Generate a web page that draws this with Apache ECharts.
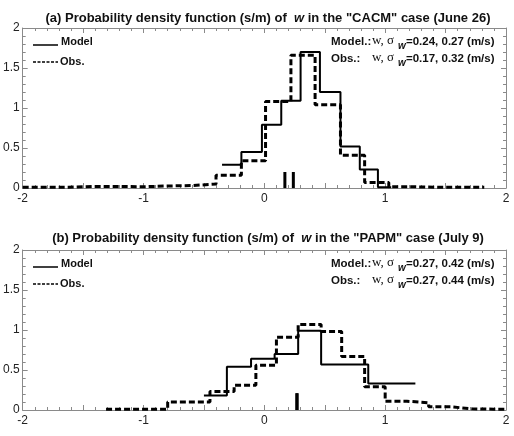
<!DOCTYPE html>
<html>
<head>
<meta charset="utf-8">
<script src="https://cdn.jsdelivr.net/npm/echarts@6/dist/echarts.min.js"></script>
<style>
  html, body { margin: 0; padding: 0; background: #fff; }
  #main { width: 514px; height: 436px; }
</style>
</head>
<body>
<div id="main"></div>
<script>
// panel (a) CACM, June 26
const modelAEdges = [-0.35, -0.19, -0.02, 0.14, 0.30, 0.46, 0.63, 0.79, 0.94, 1.05];
const modelAValues = [0.29, 0.45, 0.79, 1.09, 1.70, 1.20, 0.52, 0.23, 0.01];
const obsAEdges = [-2.0, -1.83, -1.62, -1.42, -1.22, -1.01, -0.81, -0.60, -0.40, -0.19, 0.01, 0.22, 0.42, 0.63, 0.83, 1.03, 1.24, 1.44, 1.65, 1.82];
const obsAValues = [0.01, 0.01, 0.02, 0.02, 0.015, 0.025, 0.03, 0.05, 0.16, 0.34, 1.08, 1.66, 1.04, 0.41, 0.07, 0.015, 0.01, 0.01, 0.01];
const meanA = { model: 0.24, obs: 0.17, height: 0.2 };

// panel (b) PAPM, July 9
const modelBEdges = [-0.50, -0.31, -0.11, 0.085, 0.28, 0.47, 0.66, 0.86, 1.05, 1.25];
const modelBValues = [0.18, 0.54, 0.64, 0.70, 0.99, 0.57, 0.57, 0.33, 0.33];
const obsBEdges = [-1.31, -1.17, -0.99, -0.80, -0.63, -0.45, -0.25, -0.07, 0.10, 0.28, 0.47, 0.64, 0.83, 1.0, 1.18, 1.36, 1.54, 1.72, 1.90, 2.0];
const obsBValues = [0.01, 0.01, 0.01, 0.10, 0.10, 0.23, 0.31, 0.56, 0.91, 1.07, 0.98, 0.67, 0.29, 0.11, 0.09, 0.04, 0.015, 0.01, 0.01];
const meanB = { model: 0.27, obs: 0.27, height: 0.21 };

const titles = [
  '(a) Probability density function (s/m) of  {i|w} in the "CACM" case (June 26)',
  '(b) Probability density function (s/m) of  {i|w} in the "PAPM" case (July 9)'
];
const stats = [
  { model: '=0.24, 0.27 (m/s)', obs: '=0.17, 0.32 (m/s)' },
  { model: '=0.27, 0.42 (m/s)', obs: '=0.27, 0.44 (m/s)' }
];

// turn bin edges + heights into step points
function steps(edges, vals) {
  const pts = vals.map((v, i) => [edges[i], v]);
  pts.push([edges[edges.length - 1], vals[vals.length - 1]]);
  return pts;
}

const myChart = echarts.init(document.getElementById('main'));
const FONT = 'Liberation Sans, Arial, sans-serif';
const grids = [
  { left: 22, top: 28, width: 484, height: 160 },
  { left: 22, top: 250, width: 484, height: 160 }
];

const axisLineStyle = { color: '#8a8a8a', width: 1 };
function xAxes(gi) {
  const base = {
    type: 'value', gridIndex: gi, min: -2, max: 2, interval: 0.5,
    axisLine: { show: true, onZero: false, lineStyle: axisLineStyle },
    axisTick: { show: true, inside: true, length: 5, lineStyle: axisLineStyle },
    minorTick: { show: true, splitNumber: 5, length: 3, lineStyle: axisLineStyle },
    splitLine: { show: false }
  };
  return [
    Object.assign({}, base, {
      position: 'bottom',
      axisLabel: {
        margin: 5, color: '#222', fontSize: 12, fontFamily: FONT,
        formatter: (v) => (Number.isInteger(v) ? String(v) : '')
      }
    }),
    Object.assign({}, base, { position: 'top', axisLabel: { show: false } })
  ];
}
function yAxes(gi) {
  const base = {
    type: 'value', gridIndex: gi, min: 0, max: 2, interval: 0.5,
    axisLine: { show: true, onZero: false, lineStyle: axisLineStyle },
    axisTick: { show: true, inside: true, length: 5, lineStyle: axisLineStyle },
    minorTick: { show: true, splitNumber: 5, length: 3, lineStyle: axisLineStyle },
    splitLine: { show: false }
  };
  return [
    Object.assign({}, base, {
      position: 'left',
      axisLabel: { margin: 3, color: '#222', fontSize: 12, fontFamily: FONT }
    }),
    Object.assign({}, base, { position: 'right', axisLabel: { show: false } })
  ];
}

function panelSeries(ax, model, obs, mean) {
  const common = { xAxisIndex: ax, yAxisIndex: ax, symbol: 'none', silent: true, animation: false };
  return [
    Object.assign({ type: 'line', step: 'end', data: model, lineStyle: { color: '#000', width: 2 } }, common),
    Object.assign({ type: 'line', step: 'end', data: obs, lineStyle: { color: '#000', width: 3, type: [6, 3] } }, common),
    Object.assign({ type: 'line', data: [[mean.obs, 0], [mean.obs, mean.height]], lineStyle: { color: '#000', width: 3 } }, common),
    Object.assign({ type: 'line', data: [[mean.model, 0], [mean.model, mean.height]], lineStyle: { color: '#000', width: 3 } }, common)
  ];
}

// legend + stats text for one panel
function panelGraphics(p) {
  const dy = p * 222;
  const b = { fontFamily: FONT, fontWeight: 'bold', fontSize: 11.5, fill: '#111', verticalAlign: 'middle' };
  const serif = { fontFamily: 'Liberation Serif, Times New Roman, serif', fontSize: 13, fill: '#111', verticalAlign: 'middle' };
  const sub = { fontFamily: FONT, fontWeight: 'bold', fontStyle: 'italic', fontSize: 10, fill: '#111', verticalAlign: 'middle' };
  const g = [
    { type: 'line', shape: { x1: 33, y1: 45 + dy, x2: 58, y2: 45 + dy }, style: { stroke: '#000', lineWidth: 1.5 } },
    { type: 'text', x: 61, y: 42 + dy, style: Object.assign({ text: 'Model' }, b, { fontSize: 11 }) },
    { type: 'line', shape: { x1: 33, y1: 62 + dy, x2: 58, y2: 62 + dy }, style: { stroke: '#000', lineWidth: 1.5, lineDash: [3, 1.5] } },
    { type: 'text', x: 60, y: 62 + dy, style: Object.assign({ text: 'Obs.' }, b, { fontSize: 11 }) }
  ];
  [['Model.:', stats[p].model, 42], ['Obs.:', stats[p].obs, 59]].forEach(([lab, val, y]) => {
    g.push({ type: 'text', x: 331, y: y + dy, style: Object.assign({ text: lab }, b) });
    g.push({ type: 'text', x: 372, y: y - 1 + dy, style: Object.assign({ text: 'w, \u03c3' }, serif) });
    g.push({ type: 'text', x: 398, y: y + 4 + dy, style: Object.assign({ text: 'w' }, sub) });
    g.push({ type: 'text', x: 406, y: y + dy, style: Object.assign({ text: val }, b) });
  });
  return g;
}

const option = {
  animation: false,
  backgroundColor: '#fff',
  title: titles.map((t, i) => ({
    text: t,
    left: 263,
    textAlign: 'center',
    top: i === 0 ? 7 : 227,
    textStyle: {
      fontFamily: FONT, fontSize: 13, fontWeight: 'bold', color: '#111',
      rich: { i: { fontFamily: FONT, fontSize: 13, fontWeight: 'bold', fontStyle: 'italic', color: '#111' } }
    }
  })),
  grid: grids,
  xAxis: [...xAxes(0), ...xAxes(1)],
  yAxis: [...yAxes(0), ...yAxes(1)],
  series: [
    ...panelSeries(0, steps(modelAEdges, modelAValues), steps(obsAEdges, obsAValues), meanA),
    ...panelSeries(2, steps(modelBEdges, modelBValues), steps(obsBEdges, obsBValues), meanB)
  ],
  graphic: [...panelGraphics(0), ...panelGraphics(1)]
};

myChart.setOption(option);
</script>
</body>
</html>
